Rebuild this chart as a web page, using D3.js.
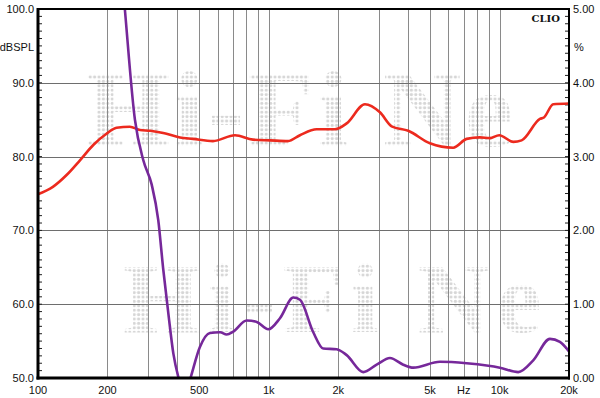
<!DOCTYPE html>
<html lang="en">
<head>
  <meta charset="UTF-8">
  <title>Frequency response</title>
  <script src="https://d3js.org/d3.v7.min.js"></script>
  <style>
    body { margin: 0; background: #fff; }
    text { font-family: "Liberation Sans", Arial, sans-serif; font-size: 11px; fill: #111; }
  </style>
</head>
<body>
  <svg id="chart" width="600" height="398"></svg>
<script>
  // axis ticks
  const freqTicks = [100, 200, 500, 1000, 2000, 5000, 10000, 20000];
  const freqTickLabels = ["100", "200", "500", "1k", "2k", "5k", "10k", "20k"];
  const dbTicks = [50, 60, 70, 80, 90, 100];
  const pctTicks = [0, 1, 2, 3, 4, 5];

  // response in dBSPL (left axis)
  const respFreq = [100, 116, 133, 152, 174, 198, 219, 250, 277, 306, 349, 412, 469, 573, 714, 854, 1012, 1211, 1365, 1613, 1936, 2176, 2611, 3032, 3408, 4022, 4995, 6302, 7203, 8222, 9087, 9970, 11463, 12465, 14962, 15576, 17088, 20000];
  const respDb = [74.9, 75.9, 77.5, 79.5, 81.6, 83.1, 83.9, 84.05, 83.6, 83.5, 83.2, 82.6, 82.4, 82.1, 82.9, 82.3, 82.2, 82.1, 82.9, 83.7, 83.7, 84.5, 87.1, 86.0, 84.1, 83.5, 81.8, 81.2, 82.4, 82.6, 82.5, 82.9, 82.0, 82.2, 85.1, 85.3, 87.1, 87.2];

  // distortion in % (right axis)
  const distFreq = [231, 238, 263, 286, 311, 332, 349, 367, 386, 408, 432, 456, 503, 556, 615, 657, 702, 802, 887, 995, 1118, 1277, 1365, 1559, 1722, 1969, 2176, 2567, 2934, 3351, 3826, 4228, 5519, 7203, 8793, 10040, 12050, 13996, 16535, 18268, 20000];
  const distPct = [5.46, 4.99, 3.50, 2.95, 2.62, 2.14, 1.47, 0.88, 0.33, -0.02, -0.25, -0.02, 0.42, 0.61, 0.62, 0.59, 0.63, 0.78, 0.76, 0.66, 0.81, 1.09, 1.06, 0.62, 0.40, 0.39, 0.31, 0.08, 0.18, 0.27, 0.18, 0.14, 0.22, 0.20, 0.17, 0.14, 0.08, 0.24, 0.53, 0.49, 0.36];

  const plotLeft = 38, plotRight = 569, plotTop = 9, plotBottom = 378;

  const svg = d3.select("#chart");

  const x = d3.scaleLog().domain([100, 20000]).range([plotLeft, plotRight]);
  const yDb = d3.scaleLinear().domain([50, 100]).range([plotBottom, plotTop]);
  const yPct = d3.scaleLinear().domain([0, 5]).range([plotBottom, plotTop]);

  svg.append("rect").attr("width", 600).attr("height", 398).attr("fill", "#fff");

  const defs = svg.append("defs");
  defs.append("clipPath").attr("id", "plot-clip")
    .append("rect").attr("x", plotLeft).attr("y", plotTop)
    .attr("width", plotRight - plotLeft).attr("height", plotBottom - plotTop);

  const pattern = defs.append("pattern").attr("id", "dots")
    .attr("patternUnits", "userSpaceOnUse").attr("width", 4.4).attr("height", 4.4);
  pattern.append("circle").attr("cx", 2.2).attr("cy", 2.2).attr("r", 1.6).attr("fill", "#d6d6d6");

  // dotted watermark (kept inside the plot area)
  const wm = svg.append("g");
  wm.append("text").attr("x", 86).attr("y", 146)
    .style("font-family", "'Liberation Serif', serif").style("font-weight", "bold")
    .style("font-size", "108px").style("letter-spacing", "4px").style("fill", "url(#dots)")
    .text("Hi-Fi Ne");
  wm.append("text").attr("x", 123).attr("y", 332)
    .style("font-family", "'Liberation Serif', serif").style("font-weight", "bold")
    .style("font-size", "100px").style("letter-spacing", "7px").style("fill", "url(#dots)")
    .text("Hi-Fi Ne");

  // vertical grid: every 100 Hz, 1 kHz, 10 kHz
  const vgrid = [];
  [100, 1000, 10000].forEach(d => { for (let i = 2; i <= 9; i++) vgrid.push(d * i); });
  svg.append("g").selectAll("line")
    .data(vgrid.concat([1000, 10000]))
    .join("line")
    .attr("x1", d => Math.round(x(d)) + 0.5).attr("x2", d => Math.round(x(d)) + 0.5)
    .attr("y1", plotTop).attr("y2", plotBottom)
    .attr("stroke", "#8a8a8a").attr("stroke-width", 1);

  svg.append("g").selectAll("line")
    .data(dbTicks.slice(1, -1))
    .join("line")
    .attr("x1", plotLeft).attr("x2", plotRight)
    .attr("y1", d => Math.round(yDb(d)) + 0.5).attr("y2", d => Math.round(yDb(d)) + 0.5)
    .attr("stroke", "#6e6e6e").attr("stroke-width", 1);

  // minor ticks inside both vertical axes
  const ticks = svg.append("g");
  ticks.selectAll("line.l")
    .data(d3.range(51, 100))
    .join("line").attr("class", "l")
    .attr("x1", plotLeft).attr("x2", plotLeft + 4)
    .attr("y1", d => yDb(d)).attr("y2", d => yDb(d))
    .attr("stroke", "#222").attr("stroke-width", 1);
  ticks.selectAll("line.r")
    .data(d3.range(51, 100))
    .join("line").attr("class", "r")
    .attr("x1", plotRight - 4).attr("x2", plotRight)
    .attr("y1", d => yDb(d)).attr("y2", d => yDb(d))
    .attr("stroke", "#222").attr("stroke-width", 1);

  // curves
  const plot = svg.append("g").attr("clip-path", "url(#plot-clip)");

  const respLine = d3.line()
    .x((d, i) => x(respFreq[i]))
    .y(d => yDb(d))
    .curve(d3.curveMonotoneX);
  plot.append("path").datum(respDb)
    .attr("d", respLine)
    .attr("fill", "none").attr("stroke", "#ec2a1e").attr("stroke-width", 2.6);

  const distLine = d3.line()
    .x((d, i) => x(distFreq[i]))
    .y(d => yPct(d))
    .curve(d3.curveMonotoneX);
  plot.append("path").datum(distPct)
    .attr("d", distLine)
    .attr("fill", "none").attr("stroke", "#76289a").attr("stroke-width", 2.6);

  // frame
  svg.append("line").attr("x1", plotLeft).attr("x2", plotRight).attr("y1", plotTop).attr("y2", plotTop)
    .attr("stroke", "#000").attr("stroke-width", 2);
  svg.append("line").attr("x1", plotRight).attr("x2", plotRight).attr("y1", plotTop - 1).attr("y2", plotBottom + 1.5)
    .attr("stroke", "#000").attr("stroke-width", 2);
  svg.append("line").attr("x1", plotLeft).attr("x2", plotLeft).attr("y1", plotTop - 1).attr("y2", plotBottom + 1.5)
    .attr("stroke", "#000").attr("stroke-width", 3);
  svg.append("line").attr("x1", plotLeft - 1.5).attr("x2", plotRight + 1).attr("y1", plotBottom).attr("y2", plotBottom)
    .attr("stroke", "#000").attr("stroke-width", 3);

  // axis labels
  svg.append("g").selectAll("text")
    .data(dbTicks)
    .join("text")
    .attr("x", 34).attr("y", d => yDb(d) + 4)
    .attr("text-anchor", "end")
    .text(d => d.toFixed(1));
  svg.append("text").attr("x", 34).attr("y", 51).attr("text-anchor", "end").text("dBSPL");

  svg.append("g").selectAll("text")
    .data(pctTicks)
    .join("text")
    .attr("x", 573).attr("y", d => yPct(d) + 4)
    .text(d => d.toFixed(2));
  svg.append("text").attr("x", 574).attr("y", 51).text("%");

  svg.append("g").selectAll("text")
    .data(freqTicks)
    .join("text")
    .attr("x", d => x(d)).attr("y", 394)
    .attr("text-anchor", "middle")
    .text((d, i) => freqTickLabels[i]);
  svg.append("text").attr("x", x(7000)).attr("y", 394).attr("text-anchor", "middle").text("Hz");

  svg.append("text").attr("x", 560).attr("y", 22).attr("text-anchor", "end")
    .style("font-family", "'DejaVu Serif', serif").style("font-weight", "bold").style("font-size", "10px")
    .text("CLIO");
</script>
</body>
</html>
